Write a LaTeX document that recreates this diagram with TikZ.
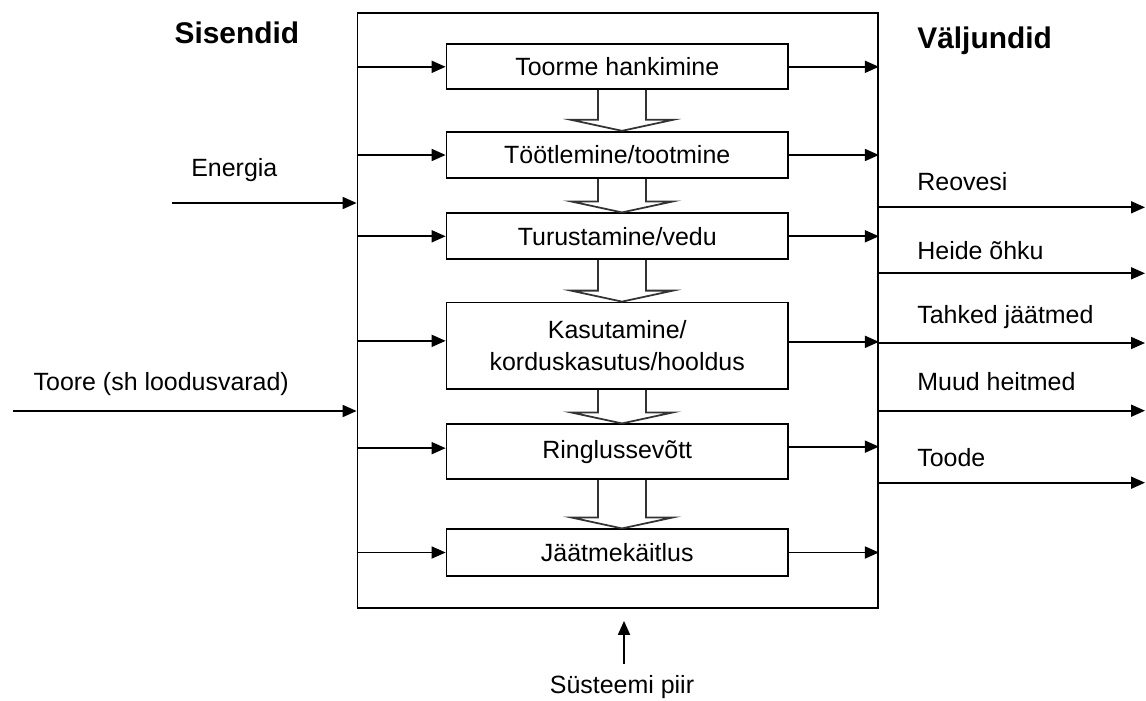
\documentclass[tikz,border=0pt]{standalone}
\usepackage{fontspec}
\setmainfont{Liberation Sans}
\usetikzlibrary{arrows.meta, calc}

\tikzset{
    etapp/.style={draw, line width=1pt, minimum width=6.83cm, inner sep=0pt, align=center},
    nool/.style={line width=1pt, -{Triangle[length=0.28cm, width=0.24cm]}},
    ontool/.style={draw=black!80, line width=1pt},
    silt/.style={anchor=base west, inner sep=0pt},
    pealkiri/.style={silt, font=\fontsize{17}{20}\selectfont\bfseries},
}

\begin{document}
\begin{tikzpicture}[font=\fontsize{14.2}{18}\selectfont]
        \useasboundingbox (0, 0) rectangle (22.92, -14.0);

        % System boundary
        \node[draw, line width=1pt, minimum width=10.41cm, minimum height=11.9cm, inner sep=0pt] (piir) at (12.355, -6.216) {};

        % Stages
        \node[etapp, minimum height=0.9cm] (hank) at (12.345, -1.336) {Toorme hankimine};
        \node[etapp, minimum height=0.932cm] (tootl) at (12.345, -3.1) {Töötlemine/tootmine};
        \node[etapp, minimum height=0.92cm] (turust) at (12.345, -4.726) {Turustamine/vedu};
        \node[etapp, minimum height=1.734cm] (kasut) at (12.345, -6.917) {Kasutamine/\\korduskasutus/hooldus};
        \node[etapp, minimum height=1.094cm] (ringl) at (12.345, -9.033) {Ringlussevõtt};
        \node[etapp, minimum height=0.928cm] (jaatm) at (12.345, -11.05) {Jäätmekäitlus};

        % Hollow arrows between stages
        \foreach \a/\b in {hank/tootl, tootl/turust, turust/kasut, kasut/ringl, ringl/jaatm}
            \draw[ontool] ($(\a.south)+(-0.385, 0)$) -- ($(\b.north)+(-0.385, 0.22)$)
                -- ($(\b.north)+(-0.925, 0.22)$) -- ($(\b.north)+(0.095, 0)$)
                -- ($(\b.north)+(1.115, 0.22)$) -- ($(\b.north)+(0.575, 0.22)$)
                -- ($(\a.south)+(0.575, 0)$);

        % Inputs to stages
        \coordinate (kasut-w) at ($(kasut.west)+(0, 0.1)$);
        \coordinate (ringl-w) at ($(ringl.west)+(0, 0.07)$);
        \draw[nool] (piir.west |- hank.west) -- (hank.west);
        \draw[nool] (piir.west |- tootl.west) -- (tootl.west);
        \draw[nool] (piir.west |- turust.west) -- (turust.west);
        \draw[nool] (piir.west |- kasut-w) -- (kasut-w);
        \draw[nool] (piir.west |- ringl-w) -- (ringl-w);
        \draw[nool] (piir.west |- jaatm.west) -- (jaatm.west);

        % Outputs from stages
        \coordinate (kasut-e) at ($(kasut.east)+(0, 0.08)$);
        \coordinate (ringl-e) at ($(ringl.east)+(0, 0.1)$);
        \draw[nool] (hank.east) -- (hank.east -| piir.east);
        \draw[nool] (tootl.east) -- (tootl.east -| piir.east);
        \draw[nool] (turust.east) -- (turust.east -| piir.east);
        \draw[nool] (kasut-e) -- (kasut-e -| piir.east);
        \draw[nool] (ringl-e) -- (ringl-e -| piir.east);
        \draw[nool] (jaatm.east) -- (jaatm.east -| piir.east);

        % Sisendid
        \node[pealkiri] (sisendid) at (3.486, -0.866) {Sisendid};
        \coordinate (energia) at (3.44, -4.06);
        \coordinate (toore) at (0.26, -8.22);
        \draw[nool] (energia) -- (energia -| piir.west);
        \draw[nool] (toore) -- (toore -| piir.west);
        \node[silt] (energia-t) at (3.82, -3.534) {Energia};
        \node[silt] (toore-t) at (0.666, -7.8) {Toore (sh loodusvarad)};

        % Väljundid
        \node[pealkiri] (valjundid) at (18.34, -0.966) {Väljundid};
        \coordinate (reovesi) at (22.9, -4.146);
        \coordinate (heide) at (22.9, -5.466);
        \coordinate (tahked) at (22.9, -6.86);
        \coordinate (muud) at (22.9, -8.214);
        \coordinate (toode) at (22.9, -9.654);
        \draw[nool] (reovesi -| piir.east) -- (reovesi);
        \draw[nool] (heide -| piir.east) -- (heide);
        \draw[nool] (tahked -| piir.east) -- (tahked);
        \draw[nool] (muud -| piir.east) -- (muud);
        \draw[nool] (toode -| piir.east) -- (toode);
        \node[silt] (reovesi-t) at (18.34, -3.814) {Reovesi};
        \node[silt] (heide-t) at (18.34, -5.18) {Heide õhku};
        \node[silt] (tahked-t) at (18.34, -6.466) {Tahked jäätmed};
        \node[silt] (muud-t) at (18.34, -7.814) {Muud heitmed};
        \node[silt] (toode-t) at (18.34, -9.32) {Toode};

        % Boundary label
        \coordinate (piir-alus) at ($(piir.south)+(0.125, -1.094)$);
        \draw[nool] (piir-alus) -- ($(piir.south)+(0.125, -0.234)$);
        \node[anchor=base] (piir-t) at (12.44, -13.866) {Süsteemi piir};
    \end{tikzpicture}
\end{document}
